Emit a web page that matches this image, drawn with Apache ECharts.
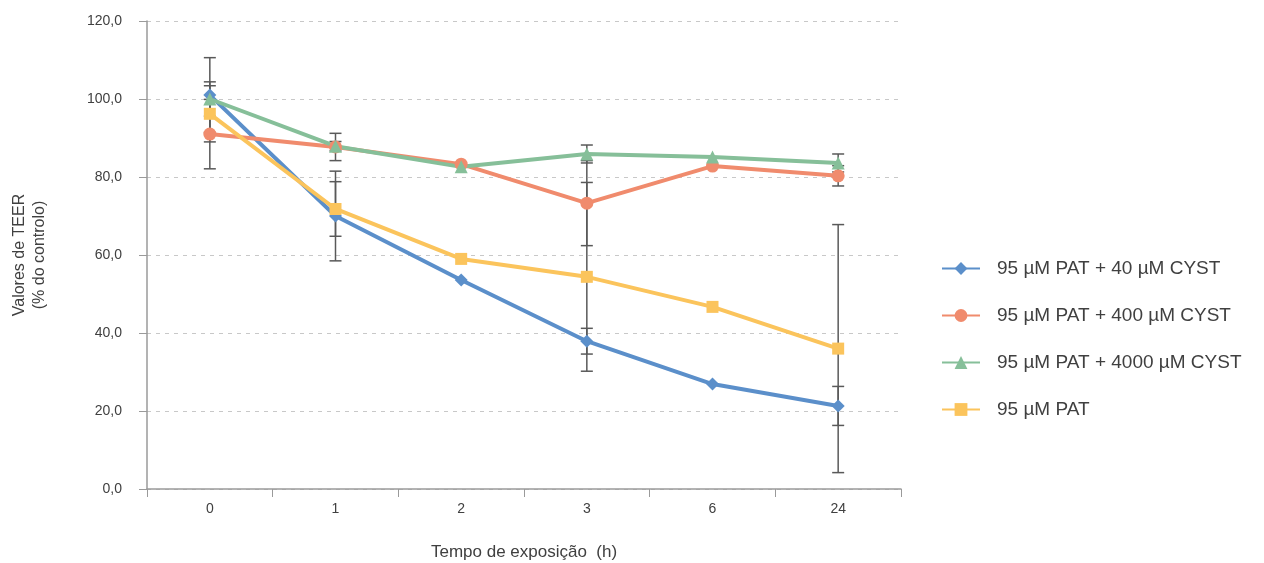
<!DOCTYPE html>
<html>
<head>
<meta charset="utf-8">
<script src="https://cdn.jsdelivr.net/npm/echarts@6/dist/echarts.min.js"></script>
<style>html,body{margin:0;padding:0;background:#fff}#c{width:1264px;height:563px}</style>
</head>
<body>
<div id="c"></div>
<script>
const categories = ['0', '1', '2', '3', '6', '24'];
const seriesNames = ['95 µM PAT + 40 µM CYST', '95 µM PAT + 400 µM CYST', '95 µM PAT + 4000 µM CYST', '95 µM PAT'];
const cyst40 = [101.0, 70.0, 53.6, 37.9, 26.9, 21.3];
const cyst400 = [91.0, 87.7, 83.3, 73.3, 82.8, 80.3];
const cyst4000 = [100.0, 87.9, 82.6, 85.9, 85.1, 83.6];
const patOnly = [96.2, 71.8, 59.0, 54.4, 46.7, 36.0];
const err40 = [9.6, 11.5, 0, 3.3, 0, 5.0];
const err400 = [8.9, 3.5, 0, 10.9, 0, 2.6];
const err4000 = [4.4, 1.2, 0, 2.3, 0, 2.3];
const errPat = [7.2, 7.0, 0, 24.2, 0, 31.8];
const yTicks = [0, 20, 40, 60, 80, 100, 120];

const colors = ['#5b8fca', '#f08b6d', '#86bf99', '#fbc45c'];
const symbols = ['diamond', 'circle', 'triangle', 'rect'];
const symSizes = [13, 13, 13, 12];
const means = [cyst40, cyst400, cyst4000, patOnly];
const errs = [err40, err400, err4000, errPat];
const FONT = 'Liberation Sans';

function errRender(params, api) {
  const x = api.value(0), y = api.value(1), e = api.value(2);
  if (!e) return null;
  const top = api.coord([x, y + e]), bot = api.coord([x, y - e]);
  const hw = 6;
  const style = { stroke: '#595959', lineWidth: 1.5 };
  return { type: 'group', children: [
    { type: 'line', shape: { x1: top[0], y1: top[1], x2: bot[0], y2: bot[1] }, style },
    { type: 'line', shape: { x1: top[0] - hw, y1: top[1], x2: top[0] + hw, y2: top[1] }, style },
    { type: 'line', shape: { x1: bot[0] - hw, y1: bot[1], x2: bot[0] + hw, y2: bot[1] }, style }
  ]};
}

const series = [];
means.forEach((m, k) => {
  series.push({
    name: 'err' + k, type: 'custom', renderItem: errRender, z: 1,
    encode: { x: 0, y: 1 }, silent: true,
    data: m.map((v, i) => [i, v, errs[k][i]])
  });
});
means.forEach((m, k) => {
  series.push({
    name: seriesNames[k], type: 'line', data: m, z: 3,
    symbol: symbols[k], symbolSize: symSizes[k], showAllSymbol: true,
    lineStyle: { color: colors[k], width: 4 },
    itemStyle: { color: colors[k] }
  });
});

const chart = echarts.init(document.getElementById('c'), null, { renderer: 'canvas' });
chart.setOption({
  animation: false,
  backgroundColor: '#fff',
  textStyle: { fontFamily: FONT },
  grid: { left: 147, right: 363, top: 21, bottom: 74, containLabel: false, outerBoundsMode: 'none' },
  legend: {
    data: seriesNames, orient: 'vertical', left: 936, top: 254,
    itemWidth: 38, itemHeight: 16, itemGap: 28,
    textStyle: { fontSize: 19, color: '#404040', fontFamily: FONT, padding: [0, 0, 0, 12] }
  },
  xAxis: {
    type: 'category', data: categories, boundaryGap: true,
    name: 'Tempo de exposição  (h)', nameLocation: 'middle', nameGap: 55,
    nameTextStyle: { fontSize: 17, color: '#404040' },
    axisLine: { lineStyle: { color: '#9a9a9a', width: 1.5 } },
    axisTick: { show: true, length: 8, alignWithLabel: false, lineStyle: { color: '#9a9a9a' } },
    axisLabel: { fontSize: 14, color: '#404040', margin: 13 }
  },
  yAxis: {
    type: 'value', min: 0, max: 120, interval: 20,
    name: 'Valores de TEER\n(% do controlo)', nameLocation: 'middle', nameGap: 97, nameRotate: 90,
    nameTextStyle: { fontSize: 16, color: '#404040', lineHeight: 20, align: 'center' },
    axisLine: { show: true, lineStyle: { color: '#9a9a9a', width: 1.5 } },
    axisTick: { show: true, length: 8, lineStyle: { color: '#9a9a9a' } },
    axisLabel: { fontSize: 14, color: '#404040', margin: 25,
      formatter: v => yTicks.includes(v) ? v.toFixed(1).replace('.', ',') : '' },
    splitLine: { show: true, lineStyle: { color: '#c8c8c8', type: [4, 5], width: 1 } }
  },
  series
});
</script>
</body>
</html>
